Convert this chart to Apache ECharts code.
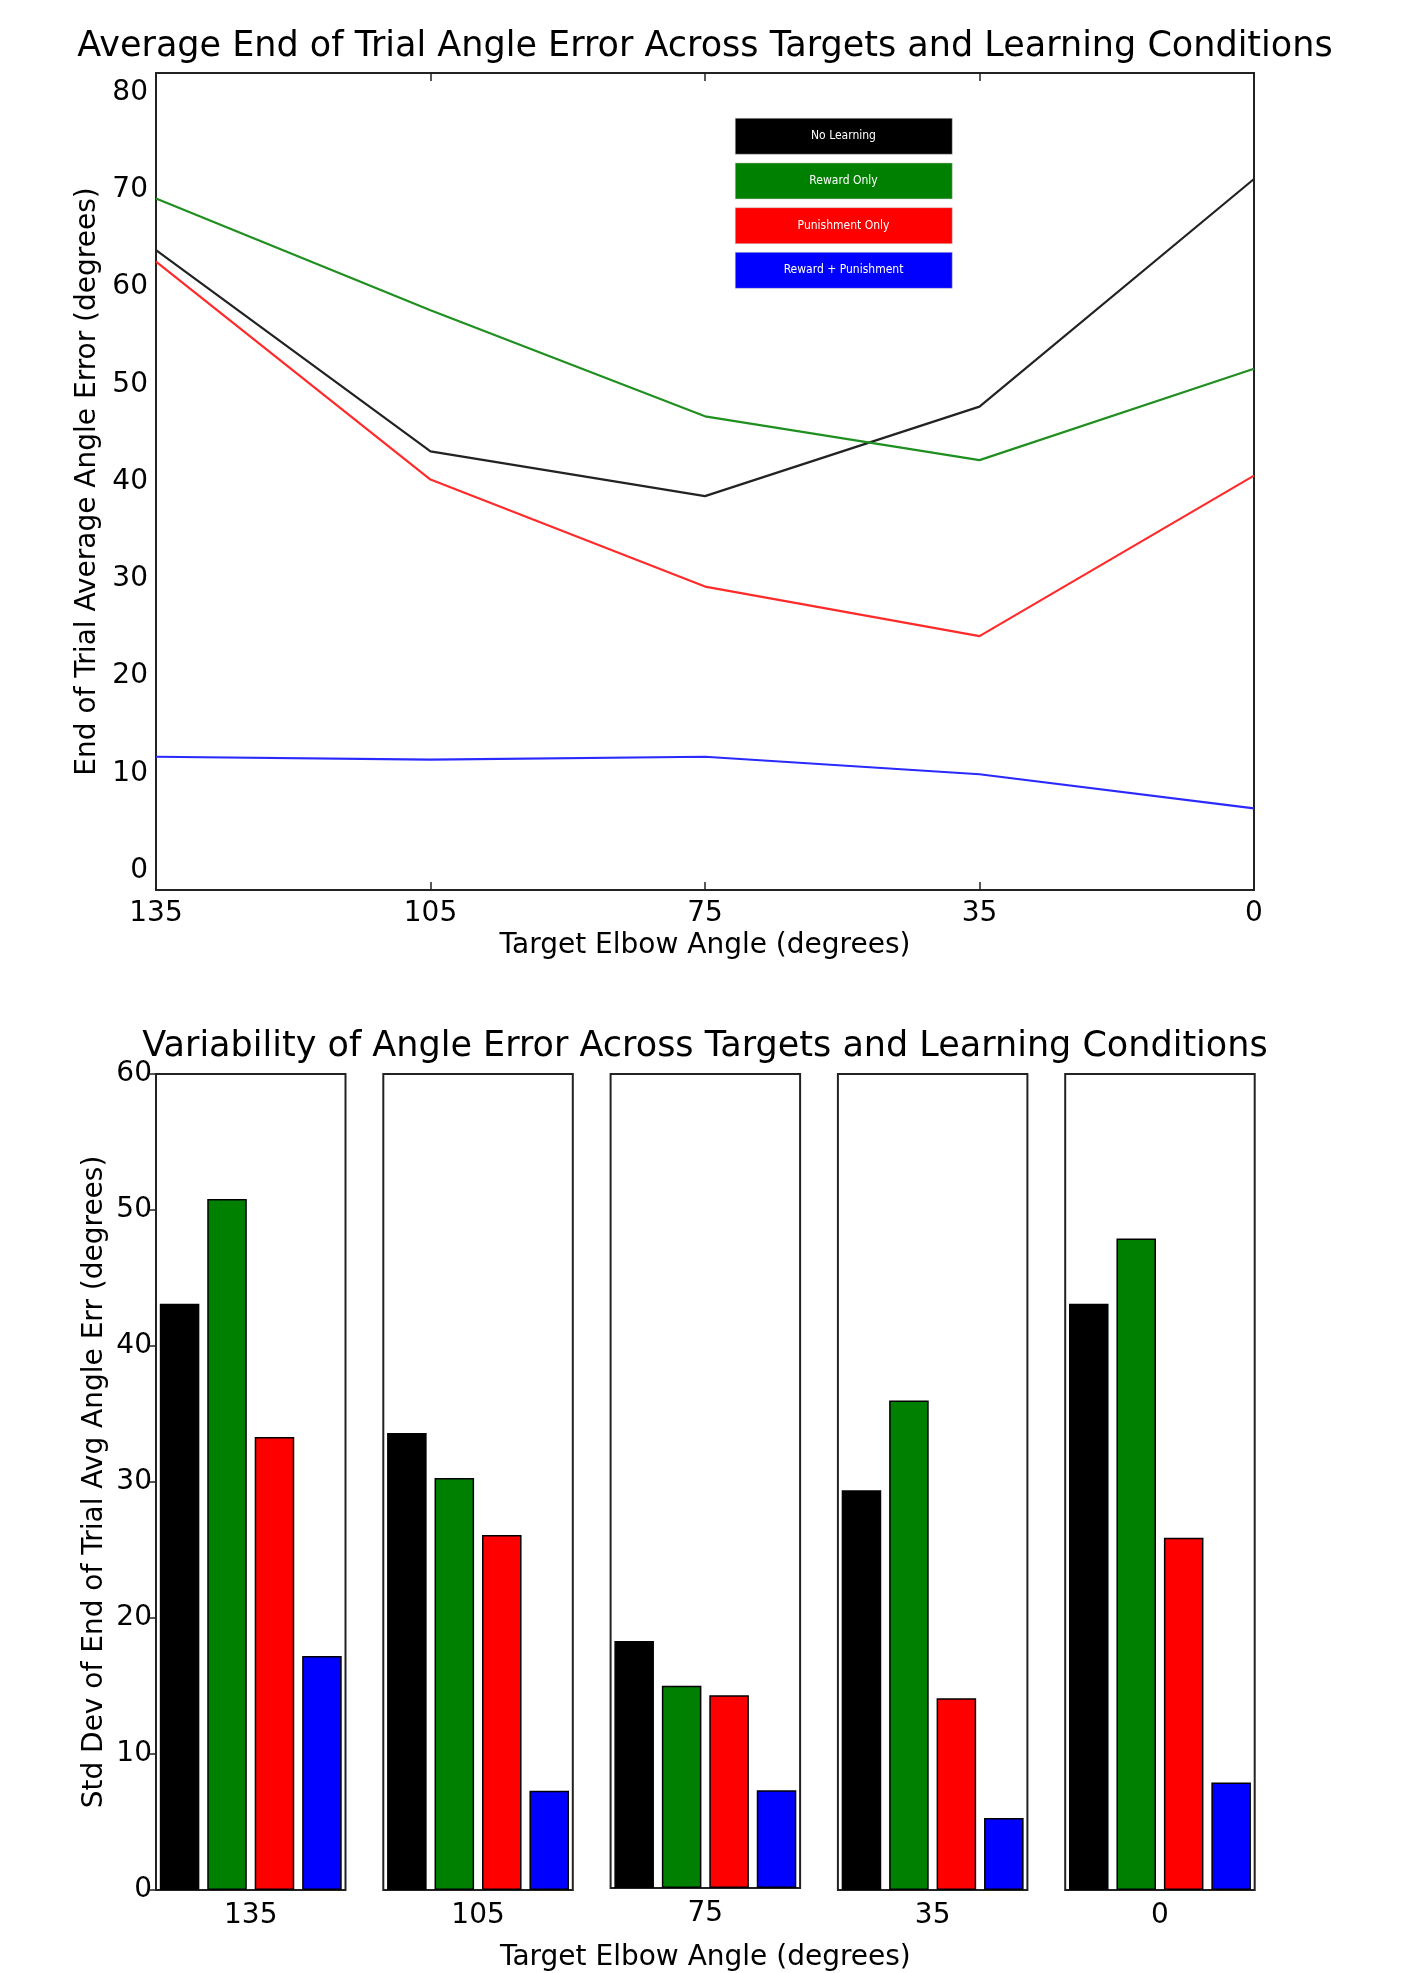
<!DOCTYPE html>
<html><head><meta charset="utf-8">
<script src="https://cdn.jsdelivr.net/npm/echarts@6/dist/echarts.min.js"></script>
<style>html,body{margin:0;padding:0;background:#fff}#c{width:1410px;height:1973px}</style>
</head><body><div id="c"></div>
<script>
// ---- data ----
const targets = ['135', '105', '75', '35', '0'];
const conditions = ['No Learning', 'Reward Only', 'Punishment Only', 'Reward + Punishment'];
const meanNoLearning = [63.8, 43.1, 38.5, 47.7, 71.1];
const meanRewardOnly = [69.1, 57.6, 46.7, 42.2, 51.6];
const meanPunishOnly = [62.6, 40.2, 29.2, 24.1, 40.6];
const meanRewardPunish = [11.7, 11.4, 11.7, 9.9, 6.4];
const sdNoLearning = [43.1, 33.6, 18.2, 29.4, 43.1];
const sdRewardOnly = [50.8, 30.3, 14.9, 36.0, 47.9];
const sdPunishOnly = [33.3, 26.1, 14.2, 14.1, 25.9];
const sdRewardPunish = [17.2, 7.3, 7.2, 5.3, 7.9];
const meanTicks = [0, 10, 20, 30, 40, 50, 60, 70, 80];
const sdTicks = [0, 10, 20, 30, 40, 50, 60];

const colors = ['#000000', '#008000', '#ff0000', '#0000ff'];
const lineColors = ['#222222', '#1f8f1f', '#ff2a2a', '#2a2aff'];
const meanSeries = [meanNoLearning, meanRewardOnly, meanPunishOnly, meanRewardPunish];
const sdSeries = [sdNoLearning, sdRewardOnly, sdPunishOnly, sdRewardPunish];

const FONT = 'DejaVu Sans';
const frame = '#222';

// ---- layout ----
const panelLeft0 = 156, panelStep = 227.3, panelWidth = 189.5;

const grids = [{ left: 156, top: 73, width: 1098, height: 817, show: true, borderColor: frame, borderWidth: 2, backgroundColor: 'transparent' }];
targets.forEach((t, i) => grids.push({ left: panelLeft0 + i * panelStep, top: 1074, width: panelWidth, height: 816, show: true, borderColor: frame, borderWidth: 2, backgroundColor: 'transparent' }));

const tickStyle = { lineStyle: { color: frame, width: 1.5 } };
const lblStyle = { fontFamily: FONT, fontSize: 28, color: '#000' };

const xAxes = [
  { gridIndex: 0, type: 'category', data: targets, boundaryGap: false, position: 'bottom',
    axisLine: { show: false, onZero: false }, axisTick: Object.assign({ inside: true, length: 8 }, tickStyle),
    axisLabel: Object.assign({ margin: 10 }, lblStyle),
    name: 'Target Elbow Angle (degrees)', nameLocation: 'middle', nameGap: 42,
    nameTextStyle: Object.assign({}, lblStyle) },
  { gridIndex: 0, type: 'category', data: targets, boundaryGap: false, position: 'top',
    axisLine: { show: false, onZero: false }, axisTick: Object.assign({ inside: true, length: 8 }, tickStyle),
    axisLabel: { show: false } }
];
const yAxes = [
  { gridIndex: 0, type: 'value', min: meanTicks[0] - 2, max: meanTicks[meanTicks.length - 1] + 2,
    minInterval: 10, maxInterval: 10, splitLine: { show: false }, axisLine: { show: false },
    axisTick: Object.assign({ inside: true, length: 8 }, tickStyle),
    axisLabel: Object.assign({ margin: 8, formatter: v => meanTicks.includes(v) ? String(v) : '' }, lblStyle),
    name: 'End of Trial Average Angle Error (degrees)', nameLocation: 'middle', nameGap: 47,
    nameTextStyle: Object.assign({}, lblStyle) },
  { gridIndex: 0, type: 'value', position: 'right', min: meanTicks[0] - 2, max: meanTicks[meanTicks.length - 1] + 2,
    minInterval: 10, maxInterval: 10, splitLine: { show: false }, axisLine: { show: false },
    axisTick: Object.assign({ inside: true, length: 8 }, tickStyle), axisLabel: { show: false } }
];

targets.forEach((t, i) => {
  xAxes.push({ gridIndex: i + 1, type: 'category', data: [t], axisLine: { show: false, onZero: false }, axisTick: { show: false },
    axisLabel: Object.assign({ margin: 12 }, lblStyle),
    name: i === 2 ? 'Target Elbow Angle (degrees)' : '', nameLocation: 'middle', nameGap: 56,
    nameTextStyle: Object.assign({}, lblStyle) });
  yAxes.push({ gridIndex: i + 1, type: 'value', min: sdTicks[0], max: sdTicks[sdTicks.length - 1], interval: 10,
    splitLine: { show: false }, axisLine: { show: false },
    axisTick: Object.assign({ show: i === 0, inside: false, length: 6 }, tickStyle),
    axisLabel: Object.assign({ show: i === 0, margin: 4 }, lblStyle),
    name: i === 0 ? 'Std Dev of End of Trial Avg Angle Err (degrees)' : '', nameLocation: 'middle', nameGap: 47,
    nameTextStyle: Object.assign({}, lblStyle) });
});
// right-side inner ticks of the first panel
yAxes.push({ gridIndex: 1, type: 'value', position: 'right', min: sdTicks[0], max: sdTicks[sdTicks.length - 1], interval: 10,
  splitLine: { show: false }, axisLine: { show: false },
  axisTick: Object.assign({ inside: true, length: 8 }, tickStyle), axisLabel: { show: false } });

const series = [];
conditions.forEach((c, k) => {
  series.push({ type: 'line', name: c, xAxisIndex: 0, yAxisIndex: 0, data: meanSeries[k],
    symbol: 'none', lineStyle: { color: lineColors[k], width: 2.2 }, itemStyle: { color: lineColors[k] }, z: 3 });
});
targets.forEach((t, i) => {
  conditions.forEach((c, k) => {
    series.push({ type: 'bar', name: c, xAxisIndex: i + 2, yAxisIndex: i + 2, data: [sdSeries[k][i]],
      barGap: '20%', barCategoryGap: '4%',
      itemStyle: { color: colors[k], borderColor: '#000', borderWidth: 1.5 } });
  });
});

// legend boxes (top chart)
const legendEls = [];
conditions.forEach((c, k) => {
  legendEls.push({ type: 'rect', left: 735, top: 118 + k * 44.7, shape: { width: 217, height: 36 },
    style: { fill: colors[k], stroke: '#ccc', lineWidth: 0.5 }, z: 10 });
  legendEls.push({ type: 'text', x: 843.5, y: 136 + k * 44.7, style: { text: c, fill: '#fff', fontSize: 12,
    fontFamily: "'DejaVu Sans Condensed', 'DejaVu Sans'", align: 'center', verticalAlign: 'middle' }, z: 11 });
});

const option = {
  animation: false,
  backgroundColor: '#fff',
  title: [
    { text: 'Average End of Trial Angle Error Across Targets and Learning Conditions', left: 'center', top: 24,
      textStyle: { fontFamily: FONT, fontSize: 35, fontWeight: 'normal', color: '#000' } },
    { text: 'Variability of Angle Error Across Targets and Learning Conditions', left: 'center', top: 1024,
      textStyle: { fontFamily: FONT, fontSize: 35, fontWeight: 'normal', color: '#000' } }
  ],
  grid: grids,
  xAxis: xAxes,
  yAxis: yAxes,
  series: series,
  graphic: legendEls
};
const chart = echarts.init(document.getElementById('c'), null, { renderer: 'canvas' });
chart.setOption(option);
</script>
</body></html>
